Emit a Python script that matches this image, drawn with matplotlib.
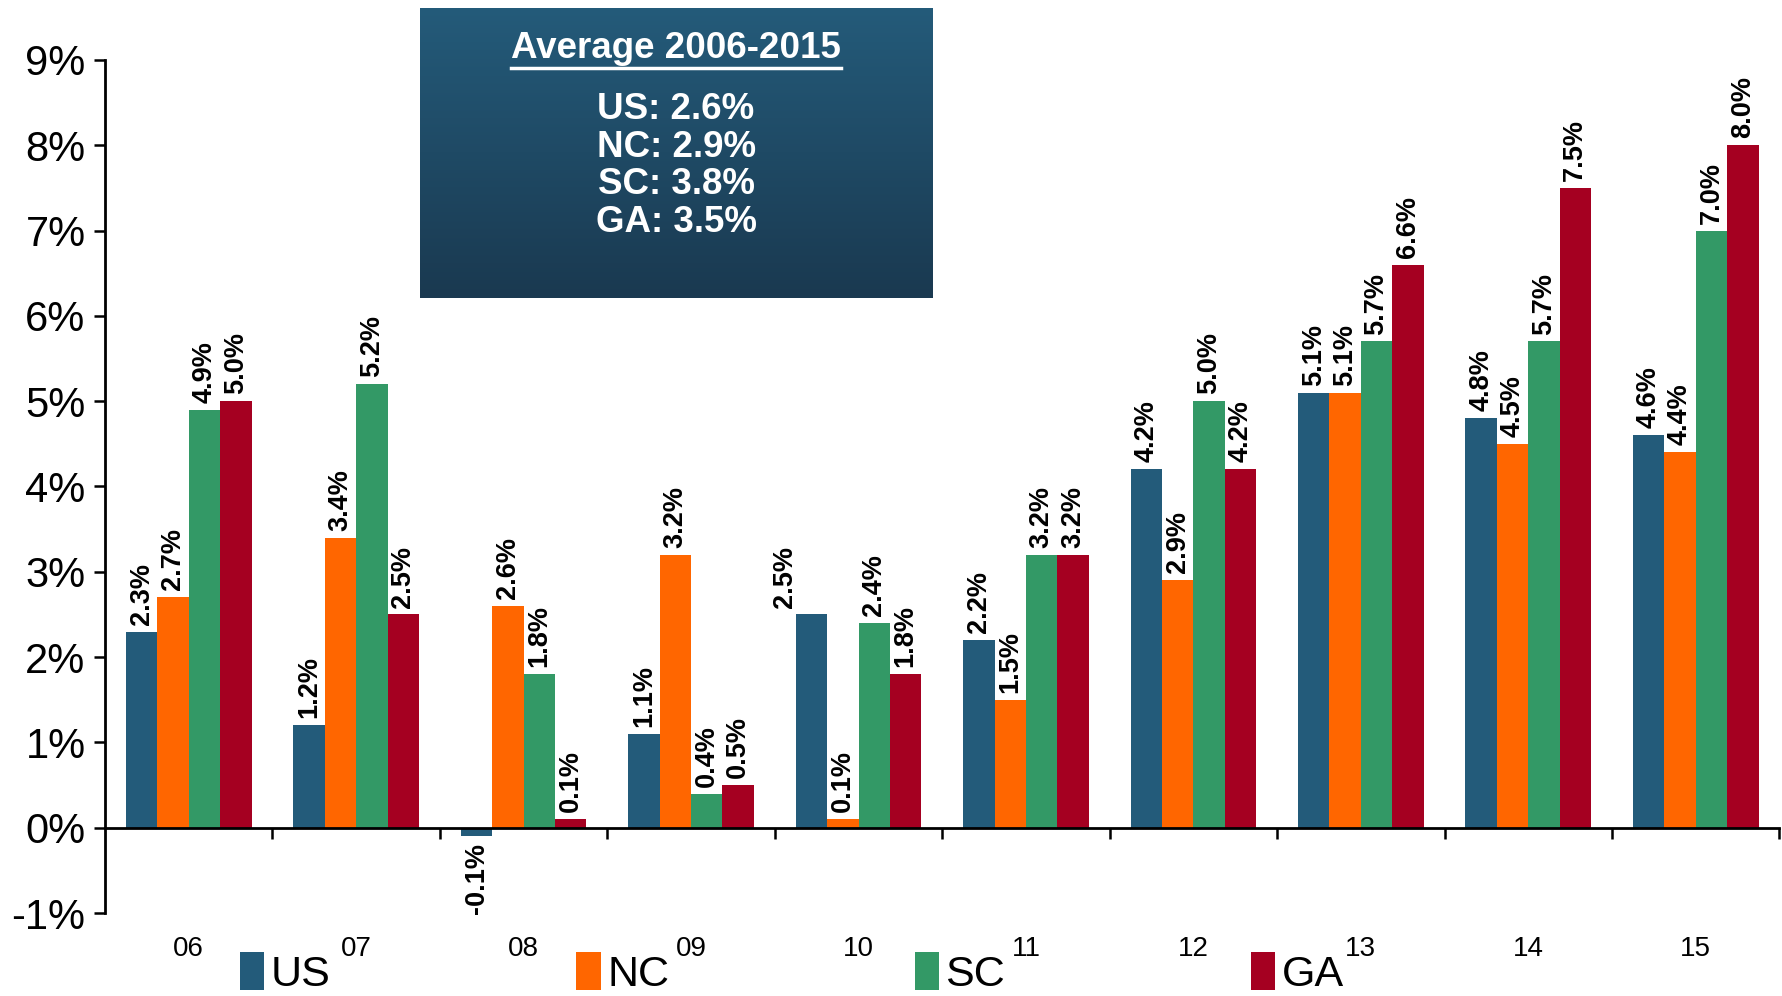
import matplotlib.pyplot as plt
import matplotlib.transforms as mtransforms
from matplotlib.patches import Patch
import numpy as np

# yearly job growth, percent
years = ['06', '07', '08', '09', '10', '11', '12', '13', '14', '15']
us = [2.3, 1.2, -0.1, 1.1, 2.5, 2.2, 4.2, 5.1, 4.8, 4.6]
nc = [2.7, 3.4, 2.6, 3.2, 0.1, 1.5, 2.9, 5.1, 4.5, 4.4]
sc = [4.9, 5.2, 1.8, 0.4, 2.4, 3.2, 5.0, 5.7, 5.7, 7.0]
ga = [5.0, 2.5, 0.1, 0.5, 1.8, 3.2, 4.2, 6.6, 7.5, 8.0]
names = ['US', 'NC', 'SC', 'GA']
averages = [2.6, 2.9, 3.8, 3.5]

colors = ['#235b7a', '#ff6600', '#339966', '#a50021']
fam = ['Liberation Sans', 'DejaVu Sans']

fig = plt.figure(figsize=(17.83, 9.96), dpi=100)
ax = fig.add_axes([0.0589, 0.0833, 0.9391, 0.8565])

x = np.arange(len(years))
w = 0.1875
series = [us, nc, sc, ga]
# one label sits off to the left of its bar
nudge = {(0, 4): -19}
for i, (vals, c) in enumerate(zip(series, colors)):
    pos = x + (i - 1.5) * w
    bars = ax.bar(pos, vals, w, color=c, zorder=2)
    for j, (b, v) in enumerate(zip(bars, vals)):
        xc = b.get_x() + b.get_width() / 2
        dx = nudge.get((i, j), 0)
        if v >= 0:
            ax.annotate(f'{v:.1f}%', (xc, v), xytext=(dx, 5), textcoords='offset points',
                        rotation=90, ha='center', va='bottom', fontsize=19.5,
                        fontweight='bold', family=fam)
        else:
            ax.annotate(f'{v:.1f}%', (xc, v), xytext=(dx, -5), textcoords='offset points',
                        rotation=90, ha='center', va='top', fontsize=19.5,
                        fontweight='bold', family=fam)

ax.set_xlim(-0.5, len(years) - 0.5)
ax.set_ylim(-1, 9)
ax.set_yticks(range(-1, 10))
ax.set_yticklabels([f'{t}%' for t in range(-1, 10)], family=fam, fontsize=30)
ax.tick_params(axis='y', direction='out', length=8, width=1.8, pad=6)

# x axis runs along zero, ticks sit between the years
ax.spines['bottom'].set_position(('data', 0))
ax.spines['bottom'].set_linewidth(2)
ax.spines['left'].set_linewidth(2)
ax.spines['top'].set_visible(False)
ax.spines['right'].set_visible(False)
ax.set_xticks(x + 0.5)
ax.set_xticklabels([])
ax.tick_params(axis='x', direction='out', length=8, width=1.8)

trans = mtransforms.blended_transform_factory(ax.transData, ax.transAxes)
for xi, yr in zip(x, years):
    ax.text(xi, -0.027, yr, transform=trans, ha='center', va='top',
            fontsize=20, family=fam)

handles = [Patch(facecolor=c, label=n) for c, n in zip(colors, names)]
fig.legend(handles=handles, loc='center left', bbox_to_anchor=(0.12, 0.023), ncol=4,
           frameon=False, prop={'family': fam, 'size': 31},
           handlelength=0.57, handleheight=1.0, handletextpad=0.15, columnspacing=5.7,
           borderpad=0.1)

# averages box with a vertical gradient
box = fig.add_axes([0.2356, 0.7008, 0.2872, 0.2912])
grad = np.linspace(0, 1, 256).reshape(-1, 1)
top = np.array([36, 91, 122]) / 255
bot = np.array([26, 57, 80]) / 255
img = top[None, None, :] * (1 - grad[..., None]) + bot[None, None, :] * grad[..., None]
box.imshow(img, aspect='auto', extent=[0, 1, 0, 1])
box.set_xlim(0, 1)
box.set_ylim(0, 1)
box.axis('off')

title = box.text(0.5, 0.86, 'Average 2006-2015', ha='center', va='center',
                 color='white', fontsize=26.5, fontweight='bold', family=fam)
for k, (n, a) in enumerate(zip(names, averages)):
    box.text(0.5, 0.65 - k * 0.13, f'{n}: {a:.1f}%', ha='center', va='center',
             color='white', fontsize=26.5, fontweight='bold', family=fam)

fig.canvas.draw()
bb = title.get_window_extent().transformed(box.transAxes.inverted())
box.plot([bb.x0, bb.x1], [bb.y0 - 0.008, bb.y0 - 0.008], color='white', lw=2.5)

fig.savefig('out.png', dpi=100)
